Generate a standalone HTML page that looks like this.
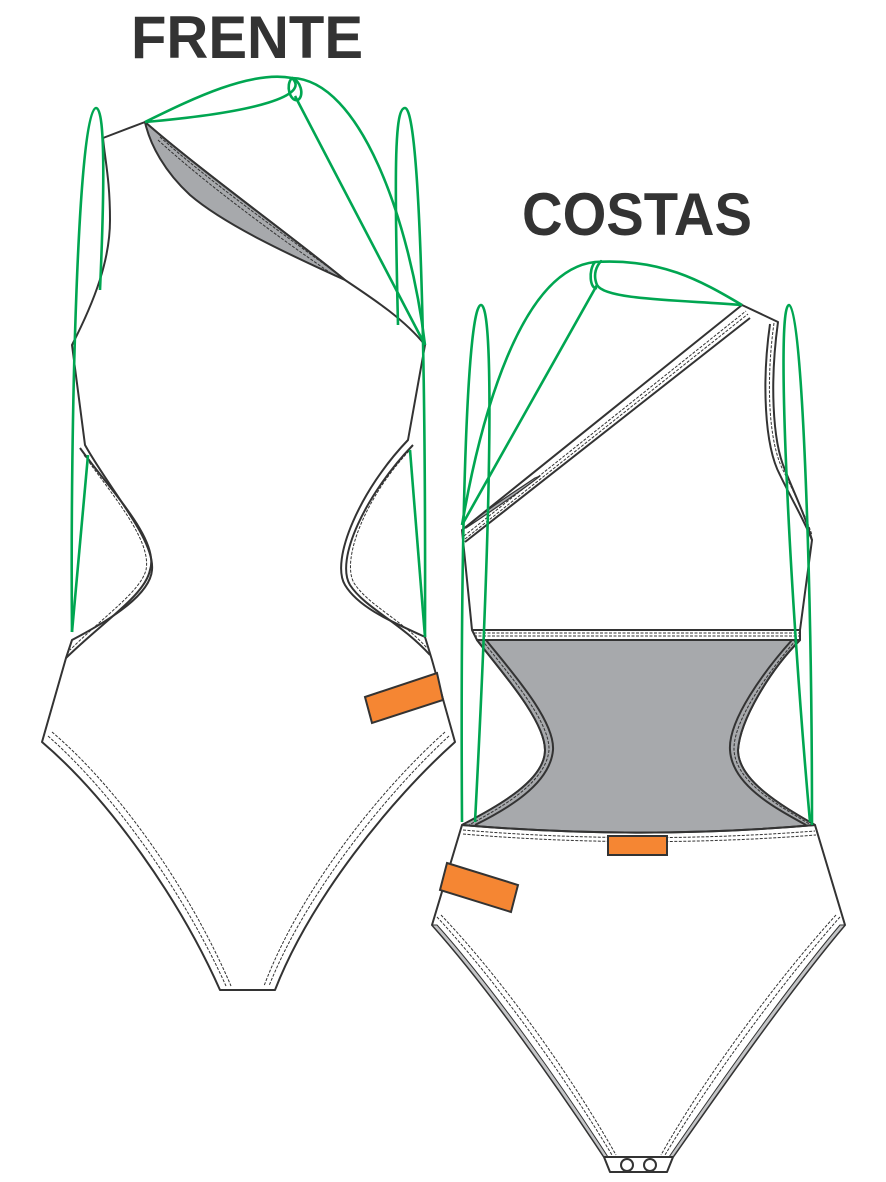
<!DOCTYPE html>
<html><head><meta charset="utf-8"><style>
html,body{margin:0;padding:0;background:#fff;}
svg{display:block;}
</style></head><body>
<svg width="886" height="1182" viewBox="0 0 886 1182" xmlns="http://www.w3.org/2000/svg">
<rect width="886" height="1182" fill="#fff"/>
<g font-family="Liberation Sans, sans-serif" font-weight="bold" fill="#333" font-size="60">
<text x="131" y="58" textLength="232" lengthAdjust="spacingAndGlyphs">FRENTE</text>
<text x="522" y="235" textLength="230" lengthAdjust="spacingAndGlyphs">COSTAS</text>
</g>

<!-- FRONT -->
<g stroke="#333" stroke-width="2" fill="none" stroke-linejoin="round">
<path fill="#fff" d="M103,138 L145,122 C200,170 290,235 345,280 C375,300 405,320 425,345 L408,440 C360,490 330,560 345,585 C360,610 400,625 425,637 L432,660 L455,742 C390,800 310,900 275,990 L220,990 C180,900 110,800 42,742 L66,658 L72,640 C110,620 150,595 152,570 C155,540 110,490 85,445 L72,345 C95,300 110,260 110,220 C110,180 105,160 103,138 Z"/>
<path fill="#a7a9ac" d="M145,122 C200,170 290,235 345,280 C290,255 225,225 190,195 C165,172 150,145 145,122 Z"/>
<path stroke-width="1" stroke-dasharray="3,1.5" d="M158,140 C205,183 275,235 335,276"/>
<path stroke-width="1" stroke-dasharray="3,1.5" d="M160,137 C208,180 280,232 339,275"/>
<!-- cutout bands -->
<path d="M80,448 C110,490 160,540 150,570 C145,595 105,620 66,658"/>
<path stroke-width="1" stroke-dasharray="3,1.5" d="M84,455 C112,495 152,540 146,570 C140,592 105,615 70,650"/>
<path d="M413,445 C365,495 335,560 350,585 C365,608 400,622 430,655"/>
<path stroke-width="1" stroke-dasharray="3,1.5" d="M409,451 C365,498 341,560 354,583 C368,605 402,620 427,648"/>
<!-- leg stitching -->
<path stroke-width="1" stroke-dasharray="3,1.5" d="M48,736 C115,795 185,895 226,986"/>
<path stroke-width="1" stroke-dasharray="3,1.5" d="M52,732 C120,790 190,890 231,986"/>
<path stroke-width="1" stroke-dasharray="3,1.5" d="M449,736 C385,795 305,895 269,986"/>
<path stroke-width="1" stroke-dasharray="3,1.5" d="M445,732 C380,790 300,890 264,986"/>
</g>
<polygon points="365,697 437,673 443,700 372,723" fill="#f58633" stroke="#333" stroke-width="2"/>
<g stroke="#00a651" stroke-width="2.6" fill="none">
<path d="M72,632 C70,420 78,108 96,108 C106,108 104,200 100,290"/>
<path d="M72,632 L88,455"/>
<path d="M145,122 C190,100 250,70 292,78 C310,95 260,112 145,122"/>
<path d="M292,78 C285,85 290,102 298,100 C305,95 300,80 292,78"/>
<path d="M295,96 L425,345"/>
<path d="M292,78 C360,80 410,220 425,345"/>
<path d="M398,325 C394,160 395,108 405,108 C418,108 426,300 425,637"/>
<path d="M425,637 L410,450"/>
</g>

<!-- BACK -->
<g stroke="#333" stroke-width="2" fill="none" stroke-linejoin="round">
<path fill="#fff" d="M462,530 L742,305 L778,322 C770,380 772,440 785,470 C795,495 805,515 812,540 L800,630 L800,640 C770,670 740,720 738,750 C738,780 780,805 815,825 L845,925 C790,990 720,1090 673,1157 L667,1172 L610,1172 L604,1157 C560,1090 490,990 432,925 L462,825 C500,805 545,780 545,750 C545,720 500,670 477,640 L472,630 Z"/>
<path fill="#a7a9ac" d="M477,640 L800,640 C770,670 740,720 738,750 C738,780 780,805 815,825 C700,835 580,835 462,825 C500,805 545,780 545,750 C545,720 500,670 477,640 Z"/>
<path d="M472,630 L800,630 M477,640 L800,640"/>
<path stroke-width="1" stroke-dasharray="3,1.5" d="M474,633 L800,633 M474,636 L800,636"/>
<path d="M486,640 C510,670 555,720 553,750 C550,785 505,810 475,825"/>
<path stroke-width="1" stroke-dasharray="3,1.5" d="M482,640 C505,670 550,720 549,750 C546,783 500,808 469,825"/>
<path d="M792,640 C765,670 728,720 730,750 C732,785 775,808 806,825"/>
<path stroke-width="1" stroke-dasharray="3,1.5" d="M796,640 C770,670 733,720 734,750 C736,783 780,806 811,825"/>
<path d="M462,825 C580,835 700,835 815,825"/>
<path stroke-width="1" stroke-dasharray="3,1.5" d="M463,830 C580,840 700,840 815,831 M463,834 C580,844 700,844 816,835"/>
<!-- neckline band -->
<path d="M465,542 L750,318"/>
<path stroke-width="1" stroke-dasharray="3,1.5" d="M464,536 L746,311 M465,539 L748,314"/>
<path fill="#a7a9ac" stroke-width="1.2" d="M466,528 C485,510 510,495 535,478 L540,476 C520,492 490,512 466,528 Z"/>
<!-- right armhole band -->
<path d="M770,324 C762,380 764,445 780,475 C792,500 804,520 812,540"/>
<path stroke-width="1" stroke-dasharray="3,1.5" d="M774,323 C766,380 768,443 784,472 C796,497 806,517 812,535"/>
<!-- leg stitching -->
<path fill="#c4c5c7" stroke-width="1" d="M432,925 C490,990 560,1090 604,1157 L608,1157 C565,1090 495,990 437,925 Z"/>
<path fill="#c4c5c7" stroke-width="1" d="M845,925 C790,990 720,1090 673,1157 L669,1157 C715,1090 785,990 840,925 Z"/>
<path stroke-width="1" stroke-dasharray="3,1.5" d="M437,917 C500,985 570,1085 612,1155 M441,915 C505,982 575,1082 616,1155"/>
<path stroke-width="1" stroke-dasharray="3,1.5" d="M840,917 C780,985 707,1085 665,1155 M836,915 C775,982 702,1082 661,1155"/>
<path d="M604,1157 L673,1157"/>
<circle cx="627" cy="1165" r="6"/>
<circle cx="650" cy="1165" r="6"/>
</g>
<rect x="608" y="836" width="59" height="19" fill="#f58633" stroke="#333" stroke-width="2"/>
<polygon points="447,863 518,885 511,912 440,890" fill="#f58633" stroke="#333" stroke-width="2"/>
<g stroke="#00a651" stroke-width="2.6" fill="none">
<path d="M462,822 C460,500 468,305 481,305 C494,305 492,500 475,822"/>
<path d="M462,525 C480,420 520,270 595,262 C660,258 700,280 742,305"/>
<path d="M742,305 C680,300 605,300 597,285 C590,268 605,258 600,262"/>
<path d="M595,262 C588,270 590,290 597,288"/>
<path d="M597,285 L462,525"/>
<path d="M810,822 C790,600 775,305 789,305 C803,305 812,600 812,825"/>
</g>
</svg>
</body></html>
